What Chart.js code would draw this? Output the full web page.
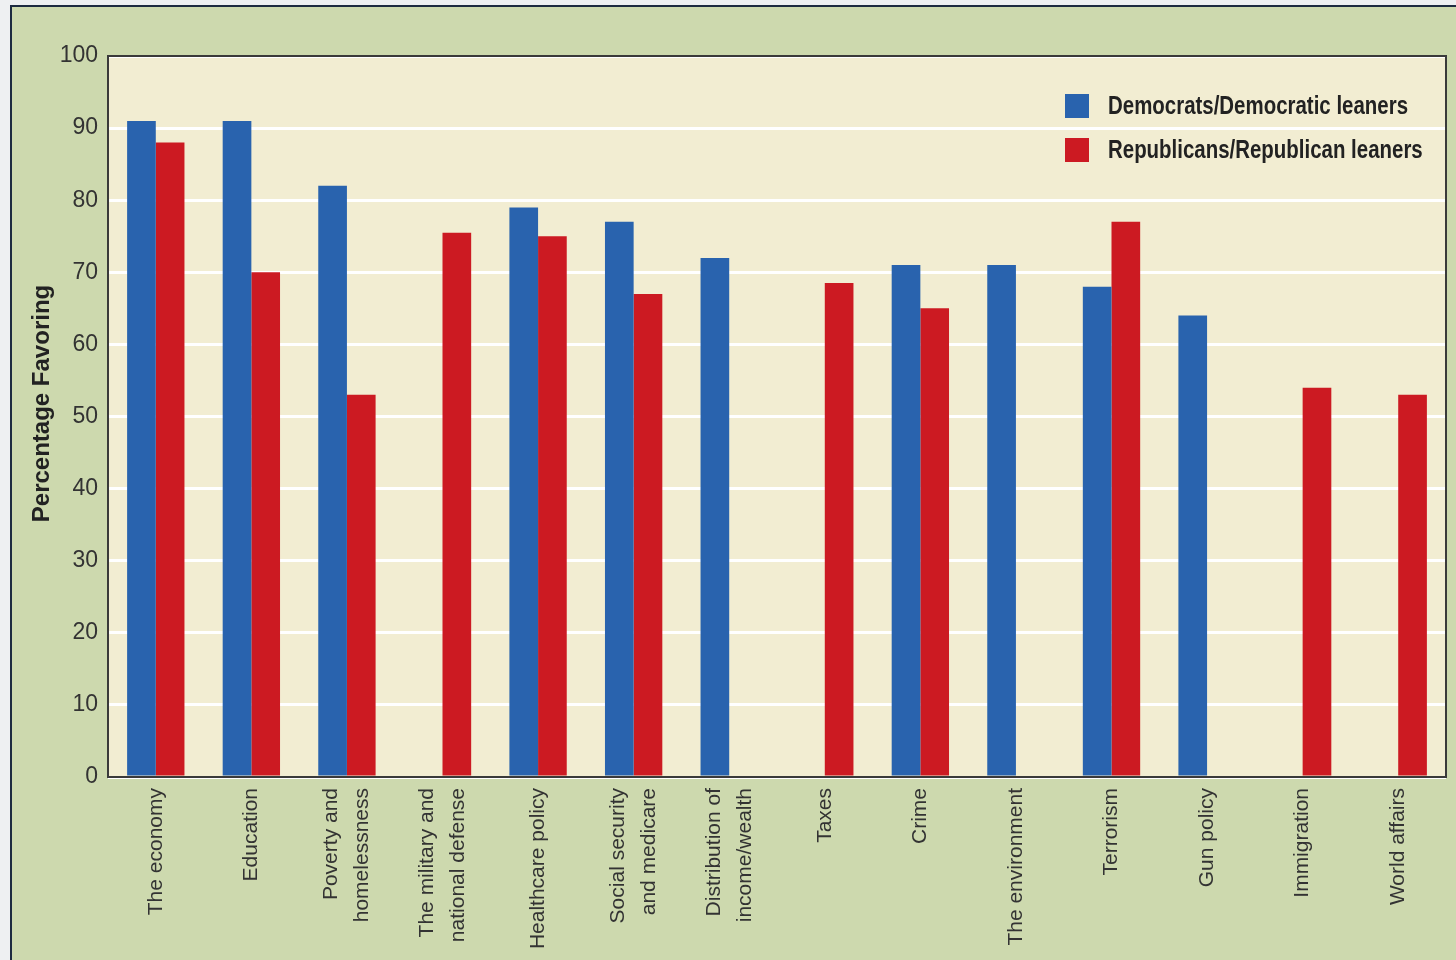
<!DOCTYPE html>
<html>
<head>
<meta charset="utf-8">
<script src="https://cdn.jsdelivr.net/npm/chart.js@4.4.1/dist/chart.umd.min.js"></script>
<style>
    html, body { margin: 0; padding: 0; background: #eef0f2; overflow: hidden; width: 1456px; height: 960px; }
    #painel {
        position: absolute; left: 10px; top: 5px;
        width: 1446px; height: 955px;
        background: #cdd9ae;
        border-left: 2px solid #1d2b40; border-top: 2px solid #1d2b40;
        overflow: hidden;
    }
    #grafico { position: absolute; left: 0; top: 0; }
</style>
</head>
<body>
<div id="painel"><canvas id="grafico" width="1444" height="953"></canvas></div>
<script>
(function () {
    const categorias = [
        'The economy',
        'Education',
        ['Poverty and', 'homelessness'],
        ['The military and', 'national defense'],
        'Healthcare policy',
        ['Social security', 'and medicare'],
        ['Distribution of', 'income/wealth'],
        'Taxes',
        'Crime',
        'The environment',
        'Terrorism',
        'Gun policy',
        'Immigration',
        'World affairs'
    ];
    const democratas = [91, 91, 82, 0, 79, 77, 72, 0, 71, 71, 68, 64, 0, 0];
    const republicanos = [88, 70, 53, 75.5, 75, 67, 0, 68.5, 65, 0, 77, 0, 54, 53];
    const nomesSeries = ['Democrats/Democratic leaners', 'Republicans/Republican leaners'];
    const coresSeries = ['#2963ae', '#cc1a22'];
    const tituloY = 'Percentage Favoring';

    const FONTE = "'Liberation Sans', Arial, sans-serif";

    const fundoPlot = {
        id: 'fundoPlot',
        beforeDraw(chart) {
            const { ctx, chartArea: a } = chart;
            ctx.save();
            ctx.fillStyle = '#f2edd2';
            ctx.fillRect(a.left, a.top, a.right - a.left, a.bottom - a.top);
            ctx.restore();
        },
        afterDatasetsDraw(chart) {
            const { ctx, chartArea: a } = chart;
            ctx.save();
            ctx.strokeStyle = '#3a3a3a';
            ctx.lineWidth = 2;
            ctx.strokeRect(a.left, a.top, a.right - a.left, a.bottom - a.top);
            ctx.restore();
        }
    };

    // rotated category labels, multi-line ones centred on the tick
    const rotulosX = {
        id: 'rotulosX',
        afterDraw(chart) {
            const { ctx, chartArea: a } = chart;
            const xs = chart.scales.x;
            const alturaLinha = 31;
            ctx.save();
            ctx.font = '21px ' + FONTE;
            ctx.fillStyle = '#333';
            ctx.textAlign = 'right';
            ctx.textBaseline = 'middle';
            chart.data.labels.forEach((rotulo, i) => {
                const linhas = Array.isArray(rotulo) ? rotulo : [rotulo];
                ctx.save();
                ctx.translate(xs.getPixelForTick(i), a.bottom + 11);
                ctx.rotate(-Math.PI / 2);
                linhas.forEach((linha, j) => {
                    ctx.fillText(linha, 0, (j - (linhas.length - 1) / 2) * alturaLinha);
                });
                ctx.restore();
            });
            ctx.restore();
        }
    };

    const tituloEixoY = {
        id: 'tituloEixoY',
        afterDraw(chart) {
            const { ctx, chartArea: a } = chart;
            ctx.save();
            ctx.font = 'bold 24px ' + FONTE;
            ctx.fillStyle = '#222';
            ctx.textAlign = 'center';
            ctx.textBaseline = 'middle';
            ctx.translate(30, (a.top + a.bottom) / 2 - 13);
            ctx.rotate(-Math.PI / 2);
            ctx.fillText(tituloY, 0, 0);
            ctx.restore();
        }
    };

    const legendaInterna = {
        id: 'legendaInterna',
        afterDatasetsDraw(chart) {
            const { ctx, chartArea: a } = chart;
            const x0 = a.right - 381;
            const y0 = a.top + 38;
            ctx.save();
            ctx.font = 'bold 25px ' + FONTE;
            ctx.textBaseline = 'middle';
            const escala = 300 / ctx.measureText(chart.data.datasets[0].label).width;
            chart.data.datasets.forEach((ds, i) => {
                const y = y0 + i * 44;
                ctx.fillStyle = ds.backgroundColor;
                ctx.fillRect(x0, y, 24, 24);
                ctx.save();
                ctx.translate(x0 + 43, y + 13);
                ctx.scale(escala, 1);
                ctx.fillStyle = '#222';
                ctx.fillText(ds.label, 0, 0);
                ctx.restore();
            });
            ctx.restore();
        }
    };

    new Chart(document.getElementById('grafico'), {
        type: 'bar',
        data: {
            labels: categorias,
            datasets: [
                { label: nomesSeries[0], data: democratas, backgroundColor: coresSeries[0] },
                { label: nomesSeries[1], data: republicanos, backgroundColor: coresSeries[1] }
            ]
        },
        options: {
            responsive: false,
            animation: false,
            devicePixelRatio: 1,
            categoryPercentage: 0.6,
            barPercentage: 1.0,
            layout: { padding: { top: 49, right: 10, left: 0, bottom: 0 } },
            plugins: {
                legend: { display: false },
                tooltip: { enabled: false }
            },
            scales: {
                x: {
                    grid: { display: false, drawTicks: false },
                    border: { display: false },
                    ticks: { display: false },
                    afterFit(scale) { scale.height = 183; }
                },
                y: {
                    min: 0,
                    max: 100,
                    grid: { color: '#ffffff', lineWidth: 3, drawTicks: false },
                    border: { display: false },
                    ticks: {
                        stepSize: 10,
                        padding: 10,
                        color: '#333',
                        font: { family: FONTE, size: 23 }
                    },
                    afterFit(scale) { scale.width = 96; }
                }
            }
        },
        plugins: [fundoPlot, rotulosX, tituloEixoY, legendaInterna]
    });
})();
</script>
</body>
</html>
